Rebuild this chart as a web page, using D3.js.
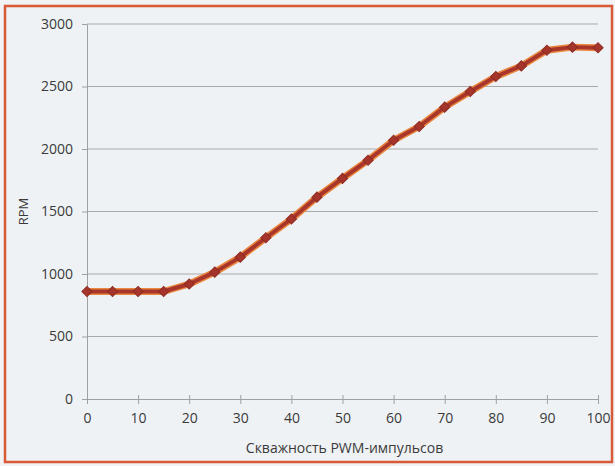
<!DOCTYPE html>
<html>
<head>
<meta charset="utf-8">
<script src="https://cdn.jsdelivr.net/npm/d3@7"></script>
<style>
body { margin: 0; background: #f2f3f5; }
text { font-family: "Open Sans", "Noto Sans", sans-serif; fill: #3a3a3a; }
</style>
</head>
<body>
<div id="chart"></div>
<script>
// duty cycle (%) and RPM
var duty = [0, 5, 10, 15, 20, 25, 30, 35, 40, 45, 50, 55, 60, 65, 70, 75, 80, 85, 90, 95, 100];
var rpm = [860, 860, 860, 860, 920, 1015, 1135, 1290, 1440, 1615, 1765, 1910, 2070, 2180, 2335, 2460, 2580, 2665, 2790, 2815, 2810];
var xTicks = [0, 10, 20, 30, 40, 50, 60, 70, 80, 90, 100];
var yTicks = [0, 500, 1000, 1500, 2000, 2500, 3000];

var data = duty.map(function (d, i) { return { x: d, y: rpm[i] }; });

var W = 615, H = 466;
var margin = { top: 24, right: 17, bottom: 67, left: 87 },
width = W - margin.left - margin.right,
height = H - margin.top - margin.bottom;

var root = d3.select("#chart")
.append("svg")
.attr("width", W)
.attr("height", H);

// background + border
root.append("rect")
.attr("x", 0).attr("y", 0).attr("width", W).attr("height", H)
.attr("fill", "#f2f3f5");
root.append("rect")
.attr("x", 5).attr("y", 6).attr("width", 607).attr("height", 456)
.attr("fill", "#eff2f5")
.attr("stroke", "#d85a36")
.attr("stroke-width", 2.5);

var svg = root.append("g")
.attr("transform", "translate(" + margin.left + "," + margin.top + ")");

var x = d3.scaleLinear().domain([0, 100]).range([0, width]);
var y = d3.scaleLinear().domain([0, 3000]).range([height, 0]);

// gridlines
svg.append("g")
.selectAll("line")
.data(yTicks.filter(function (d) { return d > 0; }))
.enter().append("line")
.attr("x1", 0).attr("x2", width)
.attr("y1", function (d) { return y(d); })
.attr("y2", function (d) { return y(d); })
.attr("stroke", "#a9a9a9")
.attr("stroke-width", 1);

// Y axis
var yAxis = svg.append("g")
.call(d3.axisLeft(y).tickValues(yTicks).tickFormat(d3.format("d")).tickSize(5).tickPadding(9));
yAxis.select(".domain").attr("stroke", "#a0a0a0");
yAxis.selectAll(".tick line").attr("stroke", "#a0a0a0");
yAxis.selectAll("text").style("font-size", "14px").attr("fill", "#3a3a3a");

// X axis
var xAxis = svg.append("g")
.attr("transform", "translate(0," + height + ")")
.call(d3.axisBottom(x).tickValues(xTicks).tickFormat(d3.format("d")).tickSizeInner(5).tickSizeOuter(0).tickPadding(9));
xAxis.select(".domain").attr("stroke", "#a0a0a0");
xAxis.selectAll(".tick line").attr("stroke", "#a0a0a0").attr("y1", -4);
xAxis.selectAll("text").style("font-size", "14px").attr("fill", "#3a3a3a");

// axis titles
svg.append("text")
.attr("transform", "translate(-59," + (height / 2) + ")rotate(-90)")
.attr("text-anchor", "middle")
.style("font-size", "13px")
.text("RPM");

svg.append("text")
.attr("x", width / 2 + 2)
.attr("y", height + 54)
.attr("text-anchor", "middle")
.style("font-size", "14px")
.text("Скважность PWM-импульсов");

// line
var line = d3.line()
.x(function (d) { return x(d.x); })
.y(function (d) { return y(d.y); });

svg.append("path")
.datum(data)
.attr("fill", "none")
.attr("stroke", "#e9873f")
.attr("stroke-width", 7)
.attr("stroke-linejoin", "round")
.attr("d", line);

svg.append("path")
.datum(data)
.attr("fill", "none")
.attr("stroke", "#a8362a")
.attr("stroke-width", 4)
.attr("stroke-linejoin", "round")
.attr("d", line);

// diamond markers
svg.selectAll(".pt").data(data).enter()
.append("path")
.attr("class", "pt")
.attr("transform", function (d) { return "translate(" + x(d.x) + "," + y(d.y) + ")rotate(45)"; })
.attr("d", "M-3.6,-3.6H3.6V3.6H-3.6Z")
.attr("fill", "#a5342a")
.attr("stroke", "#8f2c24")
.attr("stroke-width", 1);
</script>
</body>
</html>
